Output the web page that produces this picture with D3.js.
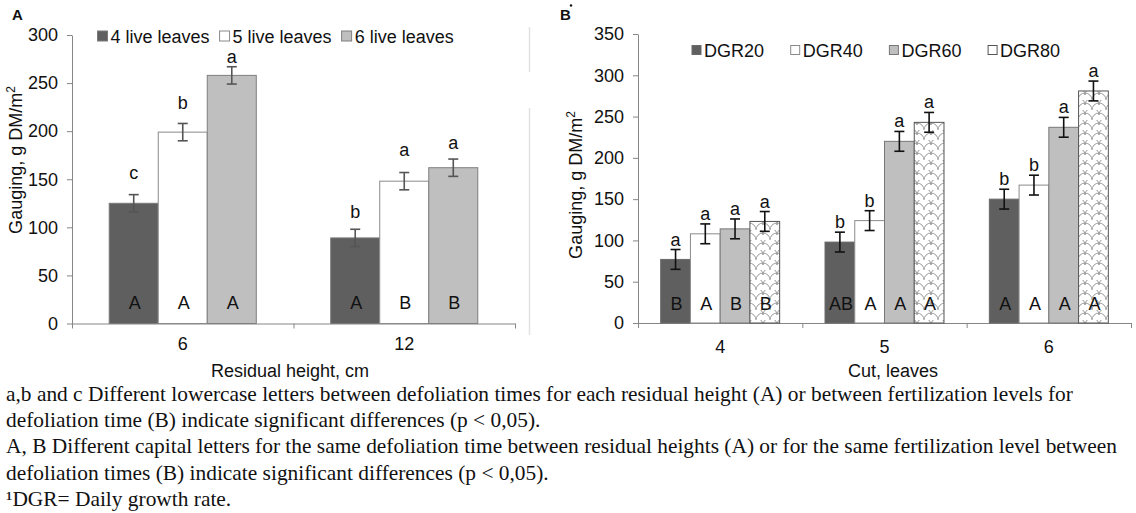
<!DOCTYPE html>
<html>
<head>
<meta charset="utf-8">
<script src="https://cdn.jsdelivr.net/npm/d3@7"></script>
<style>
  body { margin: 0; background: #fff; }
  svg text { font-family: "Liberation Sans", Arial, sans-serif; fill: #111; }
  svg text.note { font-family: "Liberation Serif", "Times New Roman", serif; font-size: 21.4px; }
</style>
</head>
<body>
<svg id="chart" width="1136" height="513"></svg>
<script>
// ---- panel A : residual height ----
const heightsA = ["6", "12"];
const leavesA = ["4 live leaves", "5 live leaves", "6 live leaves"];
const valuesA = [[125, 89], [199, 148], [258, 162]];   // one row per series
const errA = [[9, 9], [9, 9], [9, 9]];
const lowerA = [["c", "b"], ["b", "a"], ["a", "a"]];
const lowerAtA = [[157, 116], [229, 180], [277, 188]]; // where each letter sits, g DM/m2
const upperA = [["A", "A"], ["A", "B"], ["A", "B"]];
const ticksA = [0, 50, 100, 150, 200, 250, 300];

// ---- panel B : cut ----
const cutsB = ["4", "5", "6"];
const ratesB = ["DGR20", "DGR40", "DGR60", "DGR80"];
const valuesB = [[77, 98, 150], [108, 124, 167], [114, 220, 237], [123, 243, 281]];
const errB = [[12, 12, 12], [12, 12, 12], [12, 12, 12], [12, 12, 12]];
const lowerB = [["a", "b", "b"], ["a", "b", "b"], ["a", "a", "a"], ["a", "a", "a"]];
const upperB = [["B", "AB", "A"], ["A", "A", "A"], ["B", "A", "A"], ["B", "A", "A"]];
const ticksB = [0, 50, 100, 150, 200, 250, 300, 350];

const notes = [
  "a,b and c Different lowercase letters between defoliation times for each residual height (A) or between fertilization levels for",
  "defoliation time (B) indicate significant differences (p < 0,05).",
  "A, B Different capital letters for the same defoliation time between residual heights (A) or for the same fertilization level between",
  "defoliation times (B) indicate significant differences (p < 0,05).",
  "\u00b9DGR= Daily growth rate."
];

const svg = d3.select("#chart");
const axisCol = "#868686";

// hatch used by DGR80
const defs = svg.append("defs");
const pat = defs.append("pattern")
    .attr("id", "scales")
    .attr("patternUnits", "userSpaceOnUse")
    .attr("width", 14)
    .attr("height", 10);
pat.append("rect").attr("width", 14).attr("height", 10).attr("fill", "#fff");
pat.append("path")
    .attr("d", "M0,10 A7,7 0 0 1 14,10 M-7,5 A7,7 0 0 1 7,5 M7,5 A7,7 0 0 1 21,5")
    .attr("fill", "none")
    .attr("stroke", "#9a9a9a")
    .attr("stroke-width", 1);

function panel(opt) {
    const g = svg.append("g");

    const y = d3.scaleLinear().domain(opt.yDomain).range([opt.y0, opt.y1]);
    const x = d3.scaleBand().domain(opt.groups).range([opt.x0, opt.x1])
                .paddingInner(opt.pad).paddingOuter(opt.pad / 2);
    const xs = d3.scaleBand().domain(d3.range(opt.series.length)).range([0, x.bandwidth()]);

    // y axis
    const ya = g.append("g")
        .attr("transform", `translate(${opt.x0},0)`)
        .call(d3.axisLeft(y).tickValues(opt.ticks).tickSize(5).tickSizeOuter(0).tickPadding(9));
    ya.selectAll("path,line").attr("stroke", axisCol);
    ya.selectAll("text").style("font-size", "18px").attr("fill", "#111");

    // x axis: ticks at the category borders, labels in the middle
    const edge = d3.scaleLinear().domain([0, opt.groups.length]).range([opt.x0, opt.x1]);
    const xa = g.append("g")
        .attr("transform", `translate(0,${opt.y0})`)
        .call(d3.axisBottom(edge).ticks(opt.groups.length).tickSize(5).tickSizeOuter(0).tickFormat(""));
    xa.selectAll("path,line").attr("stroke", axisCol);

    g.selectAll(".xlab")
        .data(opt.groups)
        .join("text")
            .attr("x", d => x(d) + x.bandwidth() / 2)
            .attr("y", opt.xLabY)
            .attr("text-anchor", "middle")
            .style("font-size", "18px")
            .text(d => d);

    g.append("text")
        .attr("x", opt.xTitleX)
        .attr("y", 376.5)
        .attr("text-anchor", "middle")
        .style("font-size", "18px")
        .text(opt.xTitle);

    const yt = g.append("text")
        .attr("transform", `translate(${opt.yTitleX},${opt.yTitleY}) rotate(-90)`)
        .attr("text-anchor", "middle")
        .style("font-size", "18px")
        .text("Gauging, g DM/m");
    yt.append("tspan").attr("dy", -7).style("font-size", "12px").text("2");

    // bars
    opt.series.forEach(function(s, i) {
        const cells = opt.groups.map((grp, j) => ({grp: grp, v: opt.values[i][j], e: opt.err[i][j],
                                                   lo: opt.lower[i][j], up: opt.upper[i][j],
                                                   at: opt.lowerAt ? opt.lowerAt[i][j] : null}));
        const sg = g.append("g");

        sg.selectAll("rect")
            .data(cells)
            .join("rect")
                .attr("x", d => x(d.grp) + xs(i))
                .attr("y", d => y(d.v))
                .attr("width", xs.bandwidth())
                .attr("height", d => opt.y0 - y(d.v))
                .attr("fill", opt.fills[i])
                .attr("stroke", opt.strokes[i])
                .attr("stroke-width", 1);

        const cx = d => x(d.grp) + xs(i) + xs.bandwidth() / 2;

        // error bars
        const eb = sg.selectAll(".eb").data(cells).join("g")
            .attr("stroke", opt.errCol).attr("stroke-width", 1.6);
        eb.append("line").attr("x1", cx).attr("x2", cx)
            .attr("y1", d => y(d.v + d.e)).attr("y2", d => y(d.v - d.e));
        eb.append("line").attr("x1", d => cx(d) - 5).attr("x2", d => cx(d) + 5)
            .attr("y1", d => y(d.v + d.e)).attr("y2", d => y(d.v + d.e));
        eb.append("line").attr("x1", d => cx(d) - 5).attr("x2", d => cx(d) + 5)
            .attr("y1", d => y(d.v - d.e)).attr("y2", d => y(d.v - d.e));

        // lowercase letters above, capitals inside the bar
        sg.selectAll(".lo").data(cells).join("text")
            .attr("x", cx)
            .attr("y", d => d.at != null ? y(d.at) + 6 : y(d.v + d.e) - 4)
            .attr("text-anchor", "middle")
            .style("font-size", "18px")
            .text(d => d.lo);
        sg.selectAll(".up").data(cells).join("text")
            .attr("x", d => cx(d) + 1)
            .attr("y", opt.upY)
            .attr("text-anchor", "middle")
            .style("font-size", "18px")
            .text(d => d.up);
    });

    // legend
    let lx = opt.legX;
    opt.series.forEach(function(s, i) {
        g.append("rect")
            .attr("x", lx).attr("y", opt.legY - opt.sq / 2)
            .attr("width", opt.sq).attr("height", opt.sq)
            .attr("fill", i === 3 ? "#fff" : opt.fills[i])
            .attr("stroke", opt.strokes[i]).attr("stroke-width", 1);
        const t = g.append("text")
            .attr("x", lx + opt.sq + 3)
            .attr("y", opt.legY + 6.5)
            .style("font-size", "18px")
            .text(s);
        lx = opt.legStep ? lx + opt.legStep : lx + opt.sq + 3 + t.node().getComputedTextLength() + 10;
    });

    g.append("text")
        .attr("x", opt.tagX).attr("y", 19.5)
        .style("font-size", "15px").style("font-weight", "bold")
        .text(opt.tag);
}

panel({
    tag: "A", tagX: 12,
    groups: heightsA, series: leavesA, values: valuesA, err: errA,
    lower: lowerA, lowerAt: lowerAtA, upper: upperA, ticks: ticksA,
    yDomain: [0, 300], y0: 323.5, y1: 35,
    x0: 72, x1: 515, pad: 0.336,
    fills: ["#5f5f5f", "#ffffff", "#bfbfbf"],
    strokes: ["#7a7a7a", "#8a8a8a", "#7f7f7f"],
    errCol: "#555",
    xLabY: 349.5, upY: 308.5,
    xTitle: "Residual height, cm", xTitleX: 290,
    yTitleX: 21.5, yTitleY: 160,
    legX: 97.5, legY: 36, sq: 10, legStep: 0
});

panel({
    tag: "B", tagX: 560,
    groups: cutsB, series: ratesB, values: valuesB, err: errB,
    lower: lowerB, lowerAt: null, upper: upperB, ticks: ticksB,
    yDomain: [0, 350], y0: 323, y1: 34,
    x0: 638, x1: 1131, pad: 0.276,
    fills: ["#5f5f5f", "#ffffff", "#bfbfbf", "url(#scales)"],
    strokes: ["#6a6a6a", "#8a8a8a", "#777", "#555"],
    errCol: "#111",
    xLabY: 353, upY: 309.5,
    xTitle: "Cut, leaves", xTitleX: 893,
    yTitleX: 581.5, yTitleY: 185,
    legX: 692, legY: 50, sq: 9, legStep: 98.7
});

// small mark next to the B tag, as in the source
svg.append("circle").attr("cx", 571).attr("cy", 5.5).attr("r", 1.2).attr("fill", "#111");

// faint frame edge left over from the left plot
svg.append("line").attr("x1", 529.5).attr("x2", 529.5).attr("y1", 27).attr("y2", 72)
    .attr("stroke", "#e2e2e2").attr("stroke-width", 1.5);
svg.append("line").attr("x1", 529.5).attr("x2", 529.5).attr("y1", 108).attr("y2", 335)
    .attr("stroke", "#e2e2e2").attr("stroke-width", 1.5);

// footnotes
svg.selectAll(".note")
    .data(notes)
    .join("text")
        .attr("class", "note")
        .attr("x", 6)
        .attr("y", (d, i) => 401 + i * 26.2)
        .text(d => d);
</script>
</body>
</html>
